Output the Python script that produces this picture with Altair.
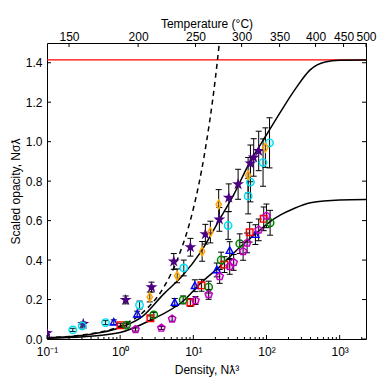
import altair as alt
import pandas as pd

W, H = 319, 296
XMAX = 2290
YMAX = 1.5

# ---------------- model curves ----------------
upper_x = [0.1, 0.316, 1.0, 2.0, 3.98, 7.08, 12.6, 22.4, 35.5, 56.2, 100, 158, 251, 398, 631, 1000, 2290]
upper_y = [0.006, 0.019, 0.058, 0.113, 0.23, 0.32, 0.44, 0.60, 0.73, 0.88, 1.035, 1.155, 1.27, 1.365, 1.404, 1.413, 1.414]
lower_x = [0.1, 0.316, 1.0, 2.59, 7.40, 12.6, 23.4, 44.7, 83.2, 112, 158, 234, 398, 1000, 2290]
lower_y = [0.004, 0.012, 0.033, 0.095, 0.195, 0.283, 0.37, 0.47, 0.555, 0.595, 0.63, 0.66, 0.69, 0.705, 0.707]
dash_x = [0.1, 0.316, 1.0, 2.0, 3.98, 6.31, 10.0, 14.1, 20.0, 25.1]
dash_y = [0.0066, 0.021, 0.066, 0.132, 0.265, 0.42, 0.66, 0.93, 1.32, 1.66]
limit_y = [1.414]

# ---------------- measured points ----------------
star_x = [0.1, 0.313, 1.19, 2.68, 5.40, 9.12, 14.6, 22.7, 30.5, 40.9, 60.3, 66.8, 78.2]
star_y = [0.03, 0.076, 0.198, 0.263, 0.393, 0.465, 0.531, 0.606, 0.716, 0.784, 0.89, 0.92, 0.953]
star_e = [0.008, 0.01, 0.02, 0.025, 0.04, 0.045, 0.05, 0.06, 0.07, 0.076, 0.093, 0.095, 0.1]

cyan_x = [0.225, 0.303, 0.631, 1.84, 7.40, 29.9, 56.1, 60.3, 89.7, 110]
cyan_y = [0.046, 0.066, 0.083, 0.172, 0.36, 0.575, 0.724, 0.795, 0.894, 0.994]
cyan_e = [0.008, 0.01, 0.01, 0.02, 0.04, 0.07, 0.09, 0.1, 0.12, 0.127]

orange_x = [2.54, 6.01, 13.2, 17.1, 22.2, 56.1, 96.6]
orange_y = [0.213, 0.32, 0.444, 0.542, 0.682, 0.83, 0.97]
orange_e = [0.025, 0.035, 0.05, 0.055, 0.075, 0.09, 0.1]

blue_x = [0.818, 1.71, 5.57, 10.5, 20.9, 31.4, 70.5]
blue_y = [0.085, 0.126, 0.185, 0.27, 0.35, 0.448, 0.529]
blue_e = [0.012, 0.015, 0.02, 0.03, 0.035, 0.045, 0.05]

red_x = [1.01, 2.59, 9.12, 12.9, 26.6, 58.9, 91.6]
red_y = [0.07, 0.105, 0.185, 0.272, 0.377, 0.541, 0.609]
red_e = [0.01, 0.012, 0.02, 0.03, 0.04, 0.05, 0.06]

green_x = [1.22, 2.88, 7.26, 16.2, 24.0, 43.1, 112]
green_y = [0.07, 0.122, 0.198, 0.263, 0.40, 0.483, 0.589]
green_e = [0.01, 0.013, 0.02, 0.03, 0.04, 0.05, 0.063]

mag_x = [1.62, 3.66, 5.13, 10.7, 16.2, 22.9, 31.4, 35.6, 47.9, 54.3, 78.2, 99.8]
mag_y = [0.048, 0.056, 0.102, 0.195, 0.226, 0.317, 0.368, 0.388, 0.444, 0.487, 0.553, 0.624]
mag_e = [0.008, 0.008, 0.012, 0.02, 0.025, 0.035, 0.04, 0.04, 0.045, 0.05, 0.055, 0.06]

# ---------------- axis ticks / labels ----------------
dec_vals = [0.1, 1, 10, 100, 1000]
dec_labels = ["10\u207b\u00b9", "10\u2070", "10\u00b9", "10\u00b2", "10\u00b3"]
minor_vals = [0.2, 0.3, 0.4, 0.5, 0.6, 0.7, 0.8, 0.9,
              2, 3, 4, 5, 6, 7, 8, 9,
              20, 30, 40, 50, 60, 70, 80, 90,
              200, 300, 400, 500, 600, 700, 800, 900, 2000]
temp_labels = ["150", "200", "250", "300", "350", "400", "450", "500"]
temp_dens = [0.2, 1.76, 10.7, 45.7, 151, 468, 1130, 2290]
y_vals = [0.0, 0.2, 0.4, 0.6, 0.8, 1.0, 1.2, 1.4]

STAR = "M0,-1L0.2245,-0.309L0.951,-0.309L0.363,0.118L0.588,0.809L0,0.382L-0.588,0.809L-0.363,0.118L-0.951,-0.309L-0.2245,-0.309Z"
DIAM = "M0,-1L0.6,0L0,1L-0.6,0Z"
TRI = "M0,-1L0.95,0.75L-0.95,0.75Z"
PENT = "M0,-1L0.951,-0.309L0.588,0.809L-0.588,0.809L-0.951,-0.309Z"

FONT = "Liberation Sans"

xscale = alt.Scale(type="log", domain=[0.1, XMAX], nice=False)
yscale = alt.Scale(domain=[0, YMAX], nice=False)


def nearest_expr(vals, labels):
    expr = "'" + labels[-1] + "'"
    for i in range(len(vals) - 2, -1, -1):
        mid = (vals[i] * vals[i + 1]) ** 0.5
        expr = "datum.value < %g ? '%s' : (%s)" % (mid, labels[i], expr)
    return expr


def X(axis=None):
    return alt.X("d:Q", scale=xscale, axis=axis)


def Y(field="v:Q", axis=None):
    return alt.Y(field, scale=yscale, axis=axis)


left_axis = alt.Axis(orient="left", values=y_vals, format=".1f", ticks=False, tickSize=0,
                     domain=False, grid=False, labelPadding=5, titlePadding=3,
                     title="Scaled opacity, N\u03c3\u019b")

layers = []

# red limit (carries the left y axis)
layers.append(
    alt.Chart(pd.DataFrame({"v": limit_y}))
    .mark_rule(color="#ff0000", strokeWidth=1.3)
    .encode(y=Y(axis=left_axis))
)

# curves
for cx, cy, dash in [(upper_x, upper_y, None), (lower_x, lower_y, None), (dash_x, dash_y, [5, 4])]:
    kw = dict(color="black", strokeWidth=1.5, interpolate="monotone", clip=True)
    if dash:
        kw["strokeDash"] = dash
    layers.append(
        alt.Chart(pd.DataFrame({"d": cx, "v": cy})).mark_line(**kw).encode(x=X(), y=Y())
    )

series = [
    (star_x, star_y, star_e, STAR, "#4B0082", 1.0, 64),
    (cyan_x, cyan_y, cyan_e, "circle", "#00DDEE", 0.2, 56),
    (orange_x, orange_y, orange_e, DIAM, "#FFA500", 0.25, 80),
    (blue_x, blue_y, blue_e, TRI, "#0000FF", 0.15, 56),
    (red_x, red_y, red_e, "square", "#FF0000", 0.15, 44),
    (green_x, green_y, green_e, "circle", "#008000", 0.15, 56),
    (mag_x, mag_y, mag_e, PENT, "#C000C0", 0.2, 60),
]

# error bars
eb_rows = []
for sx, sy, se, *_ in series:
    for d, v, e in zip(sx, sy, se):
        eb_rows.append({"d": d, "lo": v - e, "hi": v + e})
eb = pd.DataFrame(eb_rows)
caps = pd.concat([
    pd.DataFrame({"d": eb["d"], "v": eb["lo"]}),
    pd.DataFrame({"d": eb["d"], "v": eb["hi"]}),
])
layers.append(
    alt.Chart(eb).mark_rule(color="black", strokeWidth=1, clip=True)
    .encode(x=X(), y=Y("lo:Q"), y2="hi:Q")
)
layers.append(
    alt.Chart(caps).mark_point(shape="stroke", size=36, stroke="black", strokeWidth=1,
                               filled=False, opacity=1, clip=True)
    .encode(x=X(), y=Y())
)

# markers
for sx, sy, se, shape, col, fo, size in series:
    layers.append(
        alt.Chart(pd.DataFrame({"d": sx, "v": sy}))
        .mark_point(shape=shape, filled=True, fill=col, fillOpacity=fo, stroke=col,
                    strokeWidth=1.4, size=size, opacity=1, clip=True)
        .encode(x=X(), y=Y())
    )

# bottom ticks (inward) + bottom axis
bottom_axis = alt.Axis(orient="bottom", values=dec_vals, labelExpr=nearest_expr(dec_vals, dec_labels),
                       ticks=False, tickSize=0, domain=False, grid=False, labelFlush=False,
                       labelOverlap=False, labelPadding=7, titleY=34, titleBaseline="alphabetic",
                       title="Density, N\u019b\u00b3")
layers.append(
    alt.Chart(pd.DataFrame({"d": dec_vals})).mark_rule(color="black", strokeWidth=1)
    .encode(x=X(bottom_axis), y=alt.value(H), y2=alt.value(H - 4))
)
layers.append(
    alt.Chart(pd.DataFrame({"d": minor_vals})).mark_rule(color="black", strokeWidth=1)
    .encode(x=X(), y=alt.value(H), y2=alt.value(H - 2))
)

# top ticks + temperature axis
top_axis = alt.Axis(orient="top", values=temp_dens, labelExpr=nearest_expr(temp_dens, temp_labels),
                    ticks=False, tickSize=0, domain=False, grid=False, labelFlush=False,
                    labelOverlap=False, labelPadding=0, titleY=-16, titleBaseline="alphabetic",
                    title="Temperature (\u00b0C)")
layers.append(
    alt.Chart(pd.DataFrame({"d": temp_dens})).mark_rule(color="black", strokeWidth=1)
    .encode(x=X(top_axis), y=alt.value(0), y2=alt.value(4))
)

# left / right y ticks
ydf = pd.DataFrame({"v": y_vals})
layers.append(
    alt.Chart(ydf).mark_rule(color="black", strokeWidth=1)
    .encode(y=Y(), x=alt.value(0), x2=alt.value(4))
)
layers.append(
    alt.Chart(ydf).mark_rule(color="black", strokeWidth=1)
    .encode(y=Y(), x=alt.value(W - 4), x2=alt.value(W))
)

chart = (
    alt.layer(*layers)
    .resolve_axis(x="independent", y="independent")
    .properties(width=W, height=H,
                padding={"left": 39, "top": 35, "right": 16, "bottom": 40},
                autosize=alt.AutoSizeParams(type="none"))
    .configure_view(stroke="black", strokeWidth=1)
    .configure_axis(labelFont=FONT, titleFont=FONT, labelFontSize=12, titleFontSize=12,
                    titleFontWeight="normal", labelColor="black", titleColor="black")
)

chart.save("out.html", embed_options={"renderer": "svg", "actions": False})
